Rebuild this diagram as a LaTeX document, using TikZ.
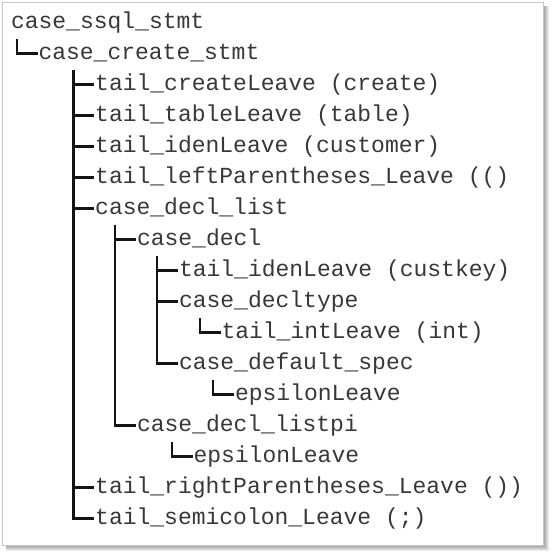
\documentclass[tikz,border=0pt]{standalone}
\usepackage{fontspec}
\setmonofont{Liberation Mono}
\usetikzlibrary{calc}
\tikzset{
  entry/.style={anchor=base west, inner sep=0pt, outer sep=0pt, text=black!78,
    font=\ttfamily\fontsize{23}{23}\selectfont},
  treeline/.style={line width=2.3pt, black!92, line cap=rect},
  frame/.style={draw=black!22, line width=0.8pt, fill=white},
}
\begin{document}
\begin{tikzpicture}[x=1pt,y=1pt]
\useasboundingbox (0,0) rectangle (555,-559);
% drop shadow
\foreach \k in {1,...,6}{
  \fill[black, opacity=0.075] (6,-6) rectangle (543+\k,-545-\k);
}
\draw[frame] (2,-2) rectangle (543,-545);
% entries
\node[entry] (n0)  at (11,   -28.5) {case\_ssql\_stmt};
\node[entry] (n1)  at (38.5, -59.5) {case\_create\_stmt};
\node[entry] (n2)  at (95.2, -90.5) {tail\_createLeave (create)};
\node[entry] (n3)  at (95.2, -121.5) {tail\_tableLeave (table)};
\node[entry] (n4)  at (95.2, -152.5) {tail\_idenLeave (customer)};
\node[entry] (n5)  at (95.2, -183.5) {tail\_leftParentheses\_Leave (()};
\node[entry] (n6)  at (95.2, -214.5) {case\_decl\_list};
\node[entry] (n7)  at (137,  -245.5) {case\_decl};
\node[entry] (n8)  at (179,  -276.5) {tail\_idenLeave (custkey)};
\node[entry] (n9)  at (179,  -307.5) {case\_decltype};
\node[entry] (n10) at (221.5,-338.5) {tail\_intLeave (int)};
\node[entry] (n11) at (179,  -369.5) {case\_default\_spec};
\node[entry] (n12) at (235,  -400.5) {epsilonLeave};
\node[entry] (n13) at (137,  -431.5) {case\_decl\_listpi};
\node[entry] (n14) at (193.5,-462.5) {epsilonLeave};
\node[entry] (n15) at (95.2, -493.5) {tail\_rightParentheses\_Leave ())};
\node[entry] (n16) at (95.2, -524.5) {tail\_semicolon\_Leave (;)};
% tree connectors: parent/last child
\foreach \pa/\ch in {n0/n1, n1/n16, n6/n13, n7/n11, n9/n10, n11/n12, n13/n14}{
  \draw[treeline] let \p1=(\pa.base), \p2=(\ch.base west) in
    (\x2-21.8, \y1-12) -- (\x2-21.8, \y2+6) -- (\x2-2, \y2+6);
}
% branches for the other children
\foreach \ch in {n2,n3,n4,n5,n6,n15,n7,n8,n9}{
  \draw[treeline] let \p2=(\ch.base west) in
    (\x2-21.8, \y2+6) -- (\x2-2, \y2+6);
}
\end{tikzpicture}
\end{document}
